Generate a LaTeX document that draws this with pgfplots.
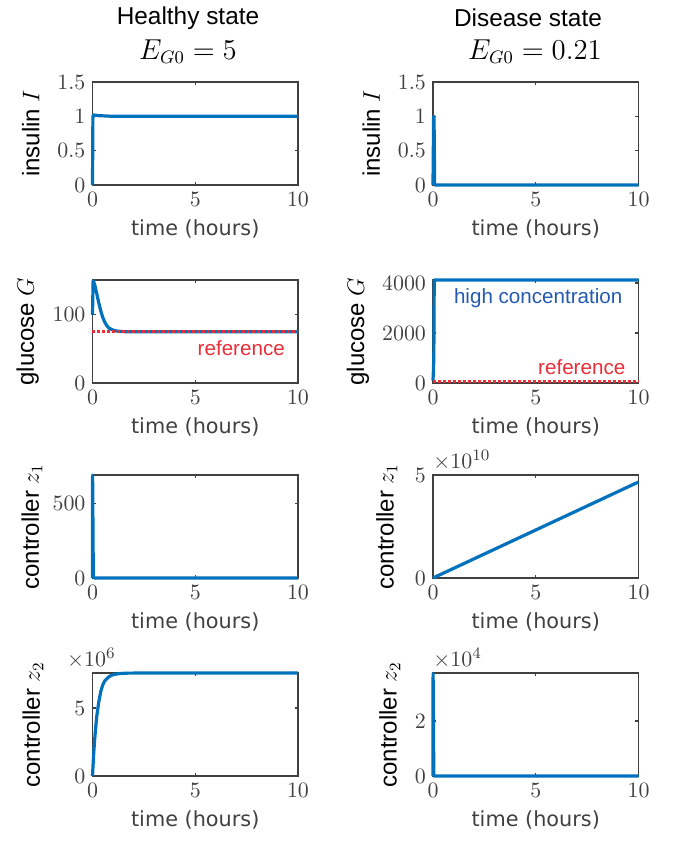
\documentclass[border=0pt]{standalone}
\usepackage{fontspec}
\setmainfont{Liberation Sans}
\newfontfamily\xfont{DejaVu Sans}
\usepackage{pgfplots}
\pgfplotsset{compat=1.18}

\definecolor{matblue}{RGB}{0,114,189}
\definecolor{refred}{RGB}{235,45,55}
\definecolor{txtblue}{RGB}{35,90,175}
\definecolor{axcol}{RGB}{64,64,64}

\tikzset{
  sclab/.style={anchor=south west, inner sep=0pt, yshift=2pt,
    font=\fontsize{11.3}{12}\selectfont, text=axcol},
}
\pgfplotsset{
  mstyle/.style={
    scale only axis, width=102.75pt, height=51.5pt,
    anchor=south west, clip=false,
    xmin=0, xmax=10, xtick={0,5,10}, ymin=0,
    tick align=inside, major tick length=1.6pt,
    axis line style={axcol, line width=0.7pt},
    every tick/.style={axcol, line width=0.7pt},
    ticklabel style={font=\fontsize{11.3}{12}\selectfont, text=axcol},
    /pgf/number format/1000 sep={},
    scaled y ticks=false,
    xlabel={time (hours)},
    xlabel style={font=\xfont\fontsize{10.4}{12}\selectfont, text=axcol},
    ylabel style={font=\fontsize{12}{14}\selectfont, text=black, anchor=center},
  },
  ylx/.style={ylabel style={at={(rel axis cs:#1,0.5)}}},
  dat/.style={matblue, line width=1.6pt, line join=round, no marks},
  refline/.style={refred, line width=1.6pt, dash pattern=on 1.3pt off 1.2pt, no marks},
}

\begin{document}
\begin{tikzpicture}
\useasboundingbox (0,0) rectangle (336.5pt,421pt);

% column titles
\node[font=\fontsize{12.2}{14}\selectfont] at (94pt,412pt) {Healthy state};
\node[font=\fontsize{13.4}{15}\selectfont] at (94pt,395pt) {$E_{G0}=5$};
\node[font=\fontsize{12.2}{14}\selectfont] at (264pt,412pt) {Disease state};
\node[font=\fontsize{13.4}{15}\selectfont] at (267.5pt,395pt) {$E_{G0}=0.21$};

% ---- row 1: insulin
\begin{axis}[mstyle, at={(46.25pt,328.5pt)}, ymax=1.5, ytick={0,0.5,1,1.5},
  ylabel={insulin $I$}, ylx=-0.3]
\addplot[dat] coordinates {(0,0) (0.02,1.0) (0.05,1.02) (0.3,1.01) (1,1.0) (10,1.0)};
\end{axis}
\begin{axis}[mstyle, at={(216.5pt,328.5pt)}, ymax=1.5, ytick={0,0.5,1,1.5},
  ylabel={insulin $I$}, ylx=-0.3]
\addplot[dat] coordinates {(0,0) (0.03,1.0) (0.05,1.0) (0.08,0) (10,0)};
\end{axis}

% ---- row 2: glucose
\begin{axis}[mstyle, at={(46.25pt,229.5pt)}, ymax=151, ytick={0,100},
  ylabel={glucose $G$}, ylx=-0.315]
\addplot[dat] coordinates {(0,100) (0.03,150) (0.1,145) (0.2,132) (0.3,118) (0.4,106)
  (0.5,96) (0.6,89) (0.7,84) (0.8,80.5) (1.0,77.5) (1.2,76) (1.5,75.3) (2,75) (10,75)};
\addplot[refline] coordinates {(0,75) (10,75)};
\node[refred, anchor=east, font=\fontsize{10.3}{12}\selectfont] at (axis cs:9.7,51.5) {reference};
\end{axis}
\begin{axis}[mstyle, at={(216.5pt,229.5pt)}, ymax=4120, ytick={0,2000,4000},
  ylabel={glucose $G$}, ylx=-0.365]
\addplot[dat] coordinates {(0,100) (0.02,500) (0.04,1000) (0.06,4120) (10,4120)};
\addplot[refline] coordinates {(0,75) (10,75)};
\node[txtblue, font=\fontsize{10.3}{12}\selectfont] at (axis cs:5.12,3388) {high concentration};
\node[refred, anchor=east, font=\fontsize{10.3}{12}\selectfont] at (axis cs:9.7,653) {reference};
\end{axis}

% ---- row 3: controller z1
\begin{axis}[mstyle, at={(46.25pt,132pt)}, ymax=690, ytick={0,500},
  ylabel={controller $z_1$}, ylx=-0.295]
\addplot[dat] coordinates {(0,0) (0.005,690) (0.04,5) (0.1,0) (10,0)};
\end{axis}
\begin{axis}[mstyle, at={(216.5pt,132pt)}, ymax=5e10, ytick={0,5e10},
  yticklabels={$0$,$5$}, ylabel={controller $z_1$}, ylx=-0.225]
\addplot[dat] coordinates {(0,0) (5,2.33e10) (10,4.66e10)};
\node[sclab] at (rel axis cs:0,1) {$\times10^{10}$};
\end{axis}

% ---- row 4: controller z2
\begin{axis}[mstyle, at={(46.25pt,33pt)}, ymax=7.57e6, ytick={0,5e6},
  yticklabels={$0$,$5$}, ylabel={controller $z_2$}, ylx=-0.29]
\addplot[dat] coordinates {(0,0) (0.05,1.45e6) (0.1,2.6e6) (0.2,4.3e6) (0.3,5.4e6)
  (0.4,6.2e6) (0.5,6.7e6) (0.6,7.0e6) (0.8,7.3e6) (1.0,7.45e6) (1.3,7.53e6)
  (1.7,7.56e6) (2.5,7.57e6) (10,7.57e6)};
\node[sclab] at (rel axis cs:-0.125,1) {$\times10^{6}$};
\end{axis}
\begin{axis}[mstyle, at={(216.5pt,33pt)}, ymax=3.75e4, ytick={0,2e4},
  yticklabels={$0$,$2$}, ylabel={controller $z_2$}, ylx=-0.21]
\addplot[dat] coordinates {(0,0) (0.005,3.74e4) (0.04,0) (10,0)};
\node[sclab] at (rel axis cs:0,1) {$\times10^{4}$};
\end{axis}
\end{tikzpicture}
\end{document}
